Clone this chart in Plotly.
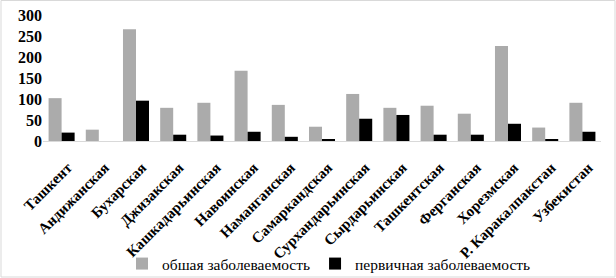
import plotly.graph_objects as go

categories = ["Ташкент", "Андижанская", "Бухарская", "Джизакская", "Кашкадарьинская",
              "Навоинская", "Наманганская", "Самаркандская", "Сурхандарьинская",
              "Сырдарьинская", "Ташкентская", "Ферганская", "Хорезмская",
              "Р. Каракалпакстан", "Узбекистан"]
general = [102, 27, 266, 79, 91, 167, 86, 34, 112, 79, 84, 65, 226, 32, 91]
primary = [20, 0, 96, 15, 13, 22, 10, 3, 53, 62, 15, 15, 41, 3, 22]
y_ticks = [0, 50, 100, 150, 200, 250, 300]

W, H = 616, 278
ml, mr, mt, mb = 43, 15, 15, 137
pw, ph = W - ml - mr, H - mt - mb

fig = go.Figure()
fig.add_trace(go.Bar(x=categories, y=general, name="обшая заболеваемость",
                     marker=dict(color="#ababab", line=dict(width=0))))
fig.add_trace(go.Bar(x=categories, y=primary, name="первичная заболеваемость",
                     marker=dict(color="#000000", line=dict(width=0))))

def px_x(p):
    return (p - ml) / pw

def px_y(p):
    return (H - mb - p) / ph

fig.add_shape(type="rect", xref="paper", yref="paper",
              x0=px_x(1), x1=px_x(615), y0=px_y(277), y1=px_y(0.5),
              line=dict(color="#d9d9d9", width=1), fillcolor="rgba(0,0,0,0)", layer="below")

fig.update_layout(
    width=W, height=H,
    margin=dict(l=ml, r=mr, t=mt, b=mb, autoexpand=False),
    paper_bgcolor="white", plot_bgcolor="white",
    barmode="group", bargap=0.3, bargroupgap=0,
    font=dict(family="Liberation Serif, Times New Roman, serif", color="#000000"),
    showlegend=True,
    legend=dict(orientation="h", xref="container", yref="container",
                x=329 / W, xanchor="center", y=(H - 264) / H, yanchor="middle",
                font=dict(size=15.5, family="Liberation Serif, serif"),
                itemwidth=30, bgcolor="rgba(0,0,0,0)"),
    xaxis=dict(tickangle=-45, tickfont=dict(size=15, weight="bold"),
               showline=True, linecolor="#d9d9d9", linewidth=1,
               showgrid=False, ticks="", automargin=False,
               ticklabelstandoff=11, ticklabelshift=6),
    yaxis=dict(range=[0, 300], tickvals=y_ticks, ticktext=[str(v) for v in y_ticks],
               tickfont=dict(size=16, weight="bold"), showgrid=False,
               zeroline=False, showline=False, ticks="", automargin=False),
)

fig.write_html("out.html", config={"displayModeBar": False},
               post_script="document.body.style.margin='0';document.body.style.overflow='hidden';")
